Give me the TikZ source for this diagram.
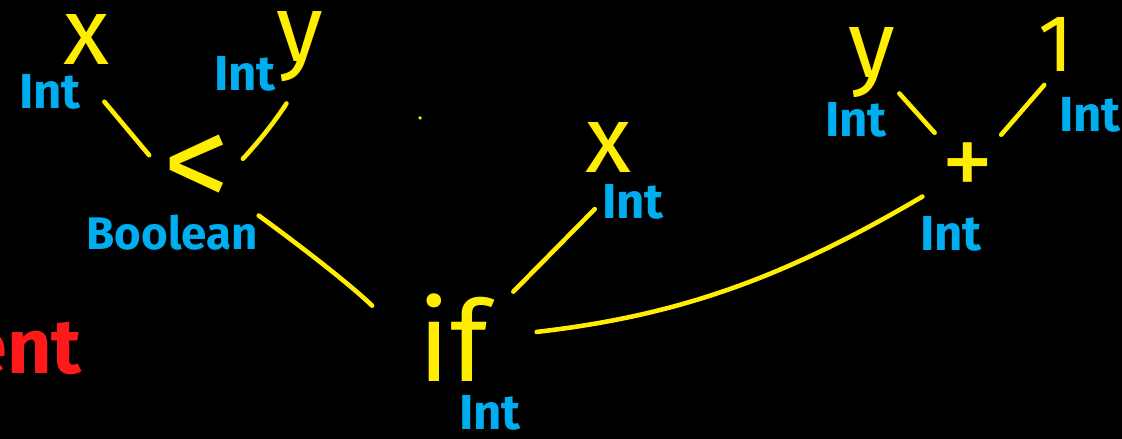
\documentclass[tikz,border=0pt]{standalone}
\usepackage{fontspec}
\setmainfont{Fira Sans}
\usepackage{xcolor}
\usepackage{tikz}
\usetikzlibrary{positioning}
\definecolor{chalkyellow}{HTML}{FFEE00}
\definecolor{chalkblue}{HTML}{00AEEF}
\definecolor{chalkred}{HTML}{FF1A1A}

\begin{document}
\begin{tikzpicture}[x=0.02cm, y=0.02cm,
	sym/.style={text=chalkyellow, inner sep=0pt, font=\fontsize{54}{56}\selectfont},
	tag/.style={text=chalkblue, inner sep=0pt, font=\bfseries\fontsize{28}{30}\selectfont},
	note/.style={text=chalkred, inner sep=0pt, font=\bfseries\fontsize{44}{46}\selectfont},
	wire/.style={draw=chalkyellow, line width=2.6pt, line cap=round}]
	% Board:
	\fill[black] (0, 0) rectangle (1122, 439);
	\useasboundingbox (0, 0) rectangle (1122, 439);
	\clip (0, 0) rectangle (1122, 439);
	% Symbols and their types:
	\node[sym] (xL) at (87, 399){x};
	\node[tag] (IntXL) at (50, 347){Int};
	\node[sym] (yL) at (300, 392){y};
	\node[tag] (IntYL) at (245, 365){Int};
	\node[sym, font=\fontsize{76}{78}\selectfont] (lt) at (197, 267){<};
	\node[tag, font=\bfseries\fontsize{26}{28}\selectfont] (Bool) at (172, 206){Boolean};
	\node[sym] (xR) at (608, 291){x};
	\node[tag] (IntXR) at (633, 237){Int};
	\node[sym, font=\fontsize{64}{66}\selectfont] (iff) at (453, 101.5){if};
	\node[tag] (IntIf) at (490, 26){Int};
	\node[sym] (yR) at (872, 376){y};
	\node[tag] (IntYR) at (856, 319){Int};
	\node[sym, font=\fontsize{46}{48}\selectfont] (one) at (1056, 395){1};
	\node[tag] (IntOne) at (1090, 324){Int};
	\node[sym, font=\fontsize{60}{62}\selectfont] (plus) at (968, 269){+};
	\node[tag] (IntPlus) at (951, 205){Int};
	\node[note, anchor=west] (tail) at (-36, 91){ent};
	\node[circle, fill=chalkyellow, inner sep=0pt, minimum size=2pt] (speck) at (420, 321){};
	% Wires:
	\draw[wire, shorten <=0.72cm, shorten >=0.44cm] (IntXL.north east) -- (lt.west);
	\draw[wire, shorten <=0.5cm, shorten >=0.36cm] (yL.south) to[bend left=5] (lt.east);
	\draw[wire, shorten <=0.02cm, shorten >=1.28cm] (Bool.north east) to[bend left=4] (iff.200);
	\draw[wire, shorten <=0.2cm, shorten >=0.72cm] (IntXR.west) -- (iff.30);
	\draw[wire, shorten <=0.98cm, shorten >=0.44cm] (iff.east) to[bend right=12] (plus.210);
	\draw[wire, shorten <=0.82cm, shorten >=1.0cm] (yR.center) -- (plus.center);
	\draw[wire, shorten <=0.36cm, shorten >=0.2cm] (one.south) -- (plus.north east);
\end{tikzpicture}
\end{document}
